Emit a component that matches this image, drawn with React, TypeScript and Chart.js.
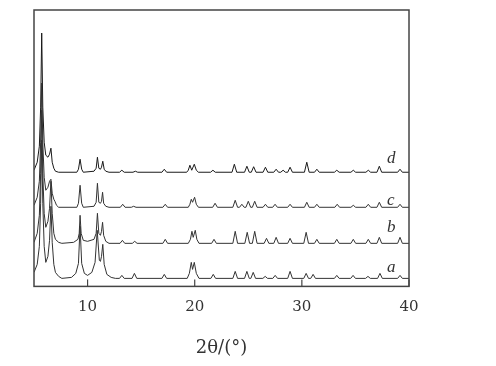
import React, { useEffect, useRef } from "react";
import { Chart, registerables } from "chart.js";

Chart.register(...registerables);

const X_MIN = 5;
const X_MAX = 40;
const X_TICKS = [10, 20, 30, 40];
const Y_MAX = 276;
const AXIS_TITLE = "2θ/(°)";

const TRACE_NAMES = ["a", "b", "c", "d"];
const TRACE_OFFSETS = [8, 43, 79, 114];
const LABEL_X = [37.95, 37.95, 37.95, 37.95];
const LABEL_Y = [14, 54, 81, 123];
const PEAK_HALF_WIDTH = 0.22;

// low-angle region, explicit [2θ, intensity above own baseline]
const A_LOW: [number, number][] = [
  [5.0, 6], [5.3, 14], [5.5, 32], [5.62, 75], [5.72, 138], [5.82, 75], [5.95, 32], [6.1, 16],
  [6.3, 22], [6.45, 38], [6.58, 72], [6.7, 36], [6.85, 14], [7.0, 6], [7.3, 2], [7.6, 0],
  [8.5, 1], [8.9, 5], [9.15, 15], [9.3, 52], [9.45, 15], [9.7, 5], [10.0, 3], [10.4, 6],
  [10.7, 16], [10.9, 48], [11.1, 18], [11.2, 17], [11.3, 22], [11.42, 34], [11.55, 14],
  [11.8, 4], [12.2, 1], [12.6, 0],
];
const B_LOW: [number, number][] = [
  [5.0, 1], [5.3, 10], [5.5, 28], [5.62, 70], [5.72, 133], [5.82, 70], [5.95, 30], [6.1, 16],
  [6.3, 22], [6.45, 35], [6.58, 62], [6.7, 30], [6.85, 10], [7.0, 4], [7.3, 1], [7.6, 0],
  [8.7, 1], [9.1, 4], [9.22, 10], [9.3, 28], [9.4, 10], [9.6, 3], [10.0, 2], [10.6, 4],
  [10.8, 10], [10.92, 30], [11.05, 10], [11.2, 8], [11.3, 12], [11.4, 21], [11.5, 8],
  [11.7, 2], [12.0, 0],
];
const C_LOW: [number, number][] = [
  [5.0, 2], [5.3, 10], [5.5, 26], [5.62, 65], [5.72, 124], [5.82, 65], [5.95, 30], [6.1, 17],
  [6.3, 20], [6.45, 26], [6.58, 28], [6.7, 14], [6.85, 8], [6.95, 6], [7.1, 2], [7.3, 0],
  [9.0, 0], [9.15, 4], [9.3, 22], [9.45, 4], [9.6, 0], [10.6, 1], [10.8, 5], [10.92, 24],
  [11.05, 5], [11.2, 4], [11.3, 6], [11.4, 15], [11.5, 4], [11.7, 1], [12.0, 0],
];
const D_LOW: [number, number][] = [
  [5.0, 2], [5.3, 10], [5.5, 26], [5.62, 65], [5.72, 139], [5.82, 65], [5.95, 30], [6.1, 17],
  [6.3, 15], [6.45, 18], [6.58, 24], [6.7, 10], [6.85, 4], [7.0, 1], [7.3, 0],
  [9.0, 0], [9.15, 3], [9.3, 13], [9.45, 3], [9.6, 0], [10.6, 1], [10.8, 4], [10.92, 15],
  [11.05, 4], [11.2, 3], [11.3, 5], [11.42, 11], [11.55, 3], [11.7, 1], [12.0, 0],
];

// doublet near 20°, explicit [2θ, intensity]
const A_DOUBLET: [number, number][] = [
  [19.3, 0], [19.5, 5], [19.68, 16], [19.8, 9], [19.96, 16], [20.15, 5], [20.4, 0],
];
const B_DOUBLET: [number, number][] = [
  [19.4, 0], [19.6, 4], [19.74, 12], [19.86, 6], [20.05, 13], [20.2, 4], [20.4, 0],
];
const C_DOUBLET: [number, number][] = [
  [19.4, 0], [19.55, 3], [19.68, 8], [19.8, 5], [19.99, 10], [20.15, 3], [20.35, 0],
];
const D_DOUBLET: [number, number][] = [
  [19.25, 0], [19.4, 2], [19.55, 7], [19.72, 2], [19.96, 8], [20.15, 2], [20.35, 0],
];

// higher-angle reflections [2θ, peak height]
const A_PEAKS: [number, number][] = [
  [13.2, 3], [14.37, 5], [17.16, 4], [21.73, 4], [23.78, 7],
  [24.87, 7], [25.46, 6], [26.58, 2], [27.51, 3], [28.9, 7], [30.4, 5], [31.05, 4],
  [33.26, 3], [34.78, 3], [36.17, 2], [37.29, 5], [39.16, 3],
];
const B_PEAKS: [number, number][] = [
  [13.25, 3], [14.4, 2], [17.25, 4], [21.8, 4], [23.78, 12],
  [24.9, 11], [25.6, 12], [26.7, 5], [27.6, 6], [28.9, 5], [30.4, 11], [31.4, 4],
  [33.26, 4], [34.8, 4], [36.2, 4], [37.23, 6], [39.16, 6],
];
const C_PEAKS: [number, number][] = [
  [13.28, 3], [14.3, 1], [17.25, 3], [21.9, 4], [23.78, 7],
  [24.4, 3], [25.0, 6], [25.6, 6], [26.6, 3], [27.5, 3], [28.9, 3], [30.46, 5], [31.4, 3],
  [33.3, 3], [34.8, 2], [36.2, 3], [37.23, 5], [39.16, 3],
];
const D_PEAKS: [number, number][] = [
  [13.2, 2], [14.46, 1], [17.16, 3], [21.7, 2], [23.7, 8],
  [24.87, 6], [25.5, 5.5], [26.6, 5], [27.6, 3], [28.25, 2], [28.9, 5], [30.46, 10],
  [31.4, 3], [33.26, 2], [34.8, 2], [36.2, 2], [37.23, 6], [39.16, 3],
];

const LOWS = [A_LOW, B_LOW, C_LOW, D_LOW];
const DOUBLETS = [A_DOUBLET, B_DOUBLET, C_DOUBLET, D_DOUBLET];
const PEAKS = [A_PEAKS, B_PEAKS, C_PEAKS, D_PEAKS];

function buildTrace(i: number) {
  const off = TRACE_OFFSETS[i];
  const pts: { x: number; y: number }[] = [...LOWS[i], ...DOUBLETS[i]].map(([x, y]) => ({ x, y: y + off }));
  PEAKS[i].forEach(([p, h]) => {
    pts.push({ x: p - PEAK_HALF_WIDTH, y: off });
    pts.push({ x: p, y: h + off });
    pts.push({ x: p + PEAK_HALF_WIDTH, y: off });
  });
  pts.push({ x: X_MAX, y: off });
  pts.sort((a, b) => a.x - b.x);
  return pts;
}

const framePlugin = {
  id: "frame",
  afterDatasetsDraw(chart: any) {
    const { ctx, chartArea, scales } = chart;
    const { left, right, top, bottom } = chartArea;
    ctx.save();
    ctx.strokeStyle = "#444";
    ctx.lineWidth = 1.5;
    ctx.strokeRect(left, top, right - left, bottom - top);
    ctx.lineWidth = 1.2;
    X_TICKS.forEach((v) => {
      const px = scales.x.getPixelForValue(v);
      ctx.beginPath();
      ctx.moveTo(px, bottom);
      ctx.lineTo(px, bottom - 7);
      ctx.stroke();
    });
    ctx.font = 'italic 17px "Liberation Serif"';
    ctx.fillStyle = "#333";
    ctx.textBaseline = "alphabetic";
    ctx.textAlign = "left";
    TRACE_NAMES.forEach((n, i) => {
      ctx.fillText(n, scales.x.getPixelForValue(LABEL_X[i]), scales.y.getPixelForValue(LABEL_Y[i]));
    });
    ctx.restore();
  },
};

export default function App() {
  const ref = useRef<HTMLCanvasElement | null>(null);
  useEffect(() => {
    if (!ref.current) return;
    const chart = new Chart(ref.current, {
      type: "line",
      data: {
        datasets: TRACE_NAMES.map((n, i) => ({
          label: n,
          data: buildTrace(i),
          borderColor: i === 3 ? "#1a1a1a" : "#333",
          borderWidth: 1,
          pointRadius: 0,
          tension: 0,
          fill: false,
        })),
      },
      options: {
        animation: false,
        responsive: true,
        maintainAspectRatio: false,
        layout: { padding: { left: 34, right: 87, top: 10, bottom: 7 } },
        plugins: { legend: { display: false }, tooltip: { enabled: false } },
        scales: {
          x: {
            type: "linear",
            min: X_MIN,
            max: X_MAX,
            afterBuildTicks: (scale: any) => {
              scale.ticks = X_TICKS.map((v) => ({ value: v }));
            },
            grid: { display: false, drawTicks: false },
            border: { display: false },
            ticks: {
              padding: 12,
              color: "#333",
              font: { family: '"DejaVu Serif"', size: 15 },
              maxRotation: 0,
            },
            title: {
              display: true,
              text: AXIS_TITLE,
              color: "#333",
              font: { family: '"DejaVu Serif"', size: 18 },
              padding: { top: 9, bottom: 0 },
            },
          },
          y: { display: false, min: 0, max: Y_MAX },
        },
      },
      plugins: [framePlugin],
    });
    return () => chart.destroy();
  }, []);
  return (
    <div style={{ position: "fixed", left: 0, top: 0, width: 496, height: 366, background: "#fff" }}>
      <canvas ref={ref} />
    </div>
  );
}
